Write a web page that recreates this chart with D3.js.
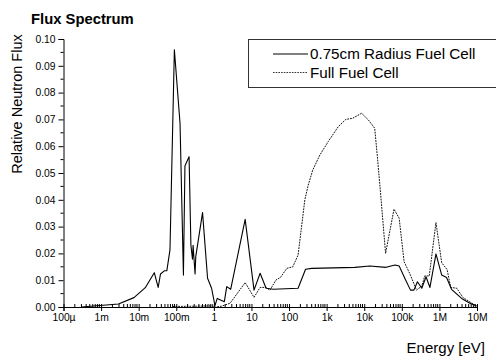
<!DOCTYPE html>
<html>
<head>
<meta charset="utf-8">
<script src="https://cdn.jsdelivr.net/npm/d3@7"></script>
<style>
  html, body { margin: 0; padding: 0; background: #fff; }
  svg { display: block; font-family: "Liberation Sans", Arial, sans-serif; }
</style>
</head>
<body>
<svg id="chart" width="496" height="356"></svg>
<script>
// Energy grid [eV] and relative flux for the 0.75 cm radius fuel cell
const smallCellEnergy = [3.0e-4, 2.9e-3, 7.5e-3, 1.5e-2, 2.6e-2, 3.3e-2, 3.8e-2, 4.8e-2, 5.6e-2, 6.8e-2,
  8.9e-2, 0.126, 0.155, 0.17, 0.219, 0.245, 0.27, 0.28, 0.316, 0.33,
  0.50, 0.68, 0.87, 1.07, 1.23, 1.9, 2.2, 2.8, 6.8, 11.7,
  17, 24.5, 38, 174, 275, 400, 5600, 14000, 38000, 66000,
  85000, 120000, 170000, 210000, 260000, 340000, 440000, 560000, 810000, 1.15e6,
  1.55e6, 2.1e6, 3.9e6, 6.5e6, 9.8e6];
const smallCellFlux = [0.0000, 0.0011, 0.0035, 0.0072, 0.0128, 0.0073, 0.0123, 0.0135, 0.0135, 0.0213,
  0.0960, 0.0685, 0.0119, 0.0526, 0.0561, 0.0231, 0.0178, 0.0230, 0.0123, 0.0188,
  0.0352, 0.0107, 0.0070, 0.0005, 0.0032, 0.0020, 0.0076, 0.0066, 0.0327, 0.0063,
  0.0126, 0.0070, 0.0066, 0.0070, 0.0141, 0.0144, 0.0148, 0.0153, 0.0148, 0.0157,
  0.0153, 0.0107, 0.0063, 0.0063, 0.0094, 0.0070, 0.0113, 0.0073, 0.0198, 0.0119,
  0.0110, 0.0066, 0.0032, 0.0014, 0.0004];

// Energy grid [eV] and relative flux for the full fuel cell
const fullCellEnergy = [0.08, 0.32, 0.9, 1.1, 1.6, 2.7, 6.8, 11.7, 17, 24.5,
  31, 45, 59, 87, 126, 174, 263, 324, 427, 660,
  1100, 2040, 3240, 4900, 8500, 12900, 19000, 22400, 26300, 37000,
  62000, 85000, 115000, 170000, 245000, 340000, 407000, 537000, 810000, 1.15e6,
  1.6e6, 2.0e6, 2.9e6, 4.2e6, 7.9e6, 9.8e6];
const fullCellFlux = [0.0002, 0.0003, 0.0004, 0.0000, 0.0003, 0.0014, 0.0091, 0.0036, 0.0073, 0.0073,
  0.0063, 0.0101, 0.0110, 0.0144, 0.0150, 0.0194, 0.0400, 0.0455, 0.0511, 0.0567,
  0.0617, 0.0673, 0.0700, 0.0704, 0.0723, 0.0698, 0.0667, 0.0560, 0.0449, 0.0200,
  0.0365, 0.0331, 0.0169, 0.0119, 0.0063, 0.0078, 0.0116, 0.0116, 0.0315, 0.0165,
  0.0140, 0.0073, 0.0070, 0.0036, 0.0011, 0.0004];

// Axis ticks and labels
const energyTicks = [1e-4, 1e-3, 1e-2, 1e-1, 1, 10, 100, 1e3, 1e4, 1e5, 1e6, 1e7];
const energyTickLabels = ["100µ", "1m", "10m", "100m", "1", "10", "100", "1k", "10k", "100k", "1M", "10M"];
const fluxTicks = [0, 0.01, 0.02, 0.03, 0.04, 0.05, 0.06, 0.07, 0.08, 0.09, 0.10];
const fluxMinorTicks = [0.005, 0.015, 0.025, 0.035, 0.045, 0.055, 0.065, 0.075, 0.085, 0.095];

const seriesNames = ["0.75cm Radius Fuel Cell", "Full Fuel Cell"];

const svg = d3.select("#chart");
const plotLeft = 63.5, plotRight = 477, plotTop = 39, plotBottom = 307;

const x = d3.scaleLog().domain([1e-4, 1e7]).range([plotLeft, plotRight]);
const y = d3.scaleLinear().domain([0, 0.1]).range([plotBottom, plotTop]);

// minor log ticks (2..9 within each decade)
const energyMinorTicks = [];
for (let p = -4; p < 7; p++) {
  for (let m = 2; m <= 9; m++) energyMinorTicks.push(m * Math.pow(10, p));
}

// ---- data lines ----
const line = d3.line().x(d => x(d[0])).y(d => y(d[1]));

svg.append("path")
  .datum(fullCellEnergy.map((e, i) => [e, fullCellFlux[i]]))
  .attr("d", line)
  .attr("fill", "none")
  .attr("stroke", "#111")
  .attr("stroke-width", 1)
  .attr("stroke-dasharray", "1.8,1");

svg.append("path")
  .datum(smallCellEnergy.map((e, i) => [e, smallCellFlux[i]]))
  .attr("d", line)
  .attr("fill", "none")
  .attr("stroke", "#000")
  .attr("stroke-width", 1.1)
  .attr("stroke-linejoin", "round");

// ---- y axis ----
const yAxis = svg.append("g").attr("transform", `translate(${plotLeft},0)`)
  .call(d3.axisLeft(y).tickValues(fluxTicks).tickFormat(d3.format(".2f")).tickSize(5).tickPadding(3));
yAxis.select(".domain").attr("stroke", "#000");
yAxis.selectAll(".tick line").attr("stroke", "#000");
yAxis.selectAll(".tick text").attr("font-size", 10.3).attr("fill", "#000")
  .attr("font-family", "Liberation Sans, Arial, sans-serif");
yAxis.selectAll(".minor").data(fluxMinorTicks).enter().append("line")
  .attr("class", "minor")
  .attr("x1", -3).attr("x2", 0)
  .attr("y1", d => y(d)).attr("y2", d => y(d))
  .attr("stroke", "#000");

// ---- x axis ----
const xAxis = svg.append("g").attr("transform", `translate(0,${plotBottom})`)
  .call(d3.axisBottom(x).tickValues(energyTicks)
    .tickFormat((d, i) => energyTickLabels[i]).tickSize(4).tickPadding(3));
xAxis.select(".domain").attr("stroke", "#000");
xAxis.selectAll(".tick line").attr("stroke", "#000").attr("y1", -3);
xAxis.selectAll(".tick text").attr("font-size", 10.3).attr("fill", "#000")
  .attr("font-family", "Liberation Sans, Arial, sans-serif");
xAxis.selectAll(".minor").data(energyMinorTicks).enter().append("line")
  .attr("class", "minor")
  .attr("x1", d => x(d)).attr("x2", d => x(d))
  .attr("y1", -3).attr("y2", 0)
  .attr("stroke", "#000");

// ---- titles ----
svg.append("text")
  .attr("x", 31).attr("y", 24)
  .attr("font-size", 14.8).attr("font-weight", "bold")
  .text("Flux Spectrum");

svg.append("text")
  .attr("transform", "translate(22,104) rotate(-90)")
  .attr("text-anchor", "middle")
  .attr("font-size", 14.5)
  .text("Relative Neutron Flux");

svg.append("text")
  .attr("x", 485).attr("y", 353)
  .attr("text-anchor", "end")
  .attr("font-size", 15)
  .text("Energy [eV]");

// ---- legend ----
const legend = svg.append("g");
legend.append("rect")
  .attr("x", 248.5).attr("y", 39.5)
  .attr("width", 260).attr("height", 48)
  .attr("fill", "#fff").attr("stroke", "#333").attr("stroke-width", 1);

const legendStyles = [{ dash: null, color: "#000" }, { dash: "1.6,1.1", color: "#333" }];
seriesNames.forEach((name, i) => {
  const ly = 54 + i * 18.5;
  legend.append("line")
    .attr("x1", 273).attr("x2", 308)
    .attr("y1", ly).attr("y2", ly)
    .attr("stroke", legendStyles[i].color)
    .attr("stroke-width", 1)
    .attr("stroke-dasharray", legendStyles[i].dash);
  legend.append("text")
    .attr("x", 310).attr("y", ly + 5)
    .attr("font-size", 15.2)
    .text(name);
});
</script>
</body>
</html>
